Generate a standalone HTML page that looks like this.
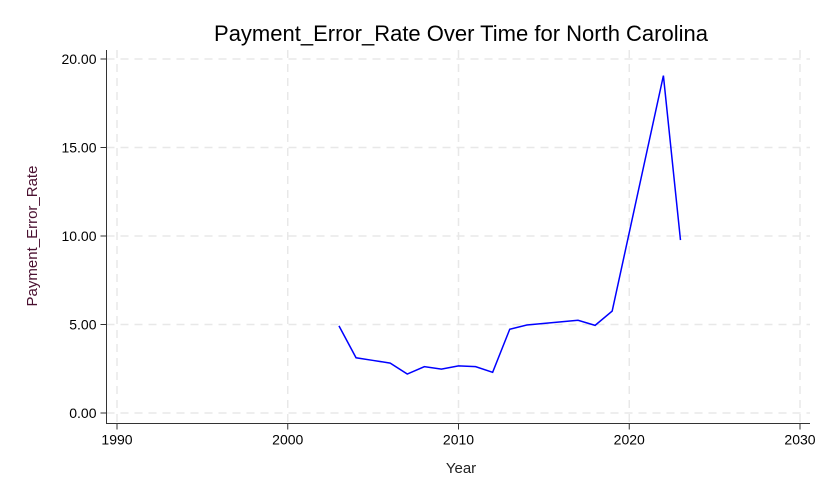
<!DOCTYPE html>
<html><head><meta charset="utf-8"><style>
body{margin:0;background:#fff;}
svg{display:block;font-family:"Liberation Sans",Arial,sans-serif;}
</style></head><body>
<svg id="chart" width="831" height="498">
<rect width="831" height="498" fill="#fff"/>
<text x="461" y="41" font-size="22" text-anchor="middle" fill="#000">Payment_Error_Rate Over Time for North Carolina</text>
<g id="grid"></g><g id="axes"></g><g id="series"></g>
<text x="461" y="473" font-size="15" text-anchor="middle" fill="#222">Year</text>
<text transform="translate(37,236) rotate(-90)" font-size="15" text-anchor="middle" fill="#4a1030">Payment_Error_Rate</text>
</svg>
<script>
const years=[2003,2004,2005,2006,2007,2008,2009,2010,2011,2012,2013,2014,2017,2018,2019,2022,2023];
const rates=[4.92,3.12,2.97,2.82,2.2,2.62,2.48,2.66,2.62,2.3,4.73,4.97,5.24,4.95,5.76,19.06,9.77];
const xTicks=[1990,2000,2010,2020,2030];
const yTicks=[0,5,10,15,20];
const NS='http://www.w3.org/2000/svg';
const X=v=>117+(v-1990)*(800-117)/40;
const Y=v=>413-v*(413-59)/20;
function mk(t,a,p){const e=document.createElementNS(NS,t);for(const k in a)e.setAttribute(k,a[k]);document.getElementById(p).appendChild(e);return e;}
const L=106.5,B=423.5;
xTicks.forEach(t=>{
 const g=mk('line',{x1:X(t),x2:X(t),y1:50,y2:B,stroke:'#e8e8e8','stroke-width':1.5,'stroke-dasharray':'8,6'},'grid');
 
 
 const tk=mk('line',{x1:X(t),x2:X(t),y1:B,y2:B+6,stroke:'#333'},'axes');
 
 
 const lb=mk('text',{x:X(t),y:B+21,'font-size':14,'text-anchor':'middle',fill:'#000'},'axes');lb.textContent=t;
 
 
});
yTicks.forEach(t=>{
 const g=mk('line',{x1:L,x2:810,y1:Y(t),y2:Y(t),stroke:'#e8e8e8','stroke-width':1.5,'stroke-dasharray':'8,6'},'grid');
 
 
 const tk=mk('line',{x1:L-6,x2:L,y1:Y(t),y2:Y(t),stroke:'#333'},'axes');
 
 
 const lb=mk('text',{x:L-10,y:Y(t)+5,'font-size':14,'text-anchor':'end',fill:'#000'},'axes');lb.textContent=t.toFixed(2);
 
 
});
const ax=mk('path',{d:`M${L},50V${B}H810`,fill:'none',stroke:'#333','stroke-width':1},'axes');


const ln=mk('polyline',{points:years.map((y,i)=>X(y)+','+Y(rates[i])).join(' '),fill:'none',stroke:'#0000ff','stroke-width':1.5},'series');


</script>
</body></html>
